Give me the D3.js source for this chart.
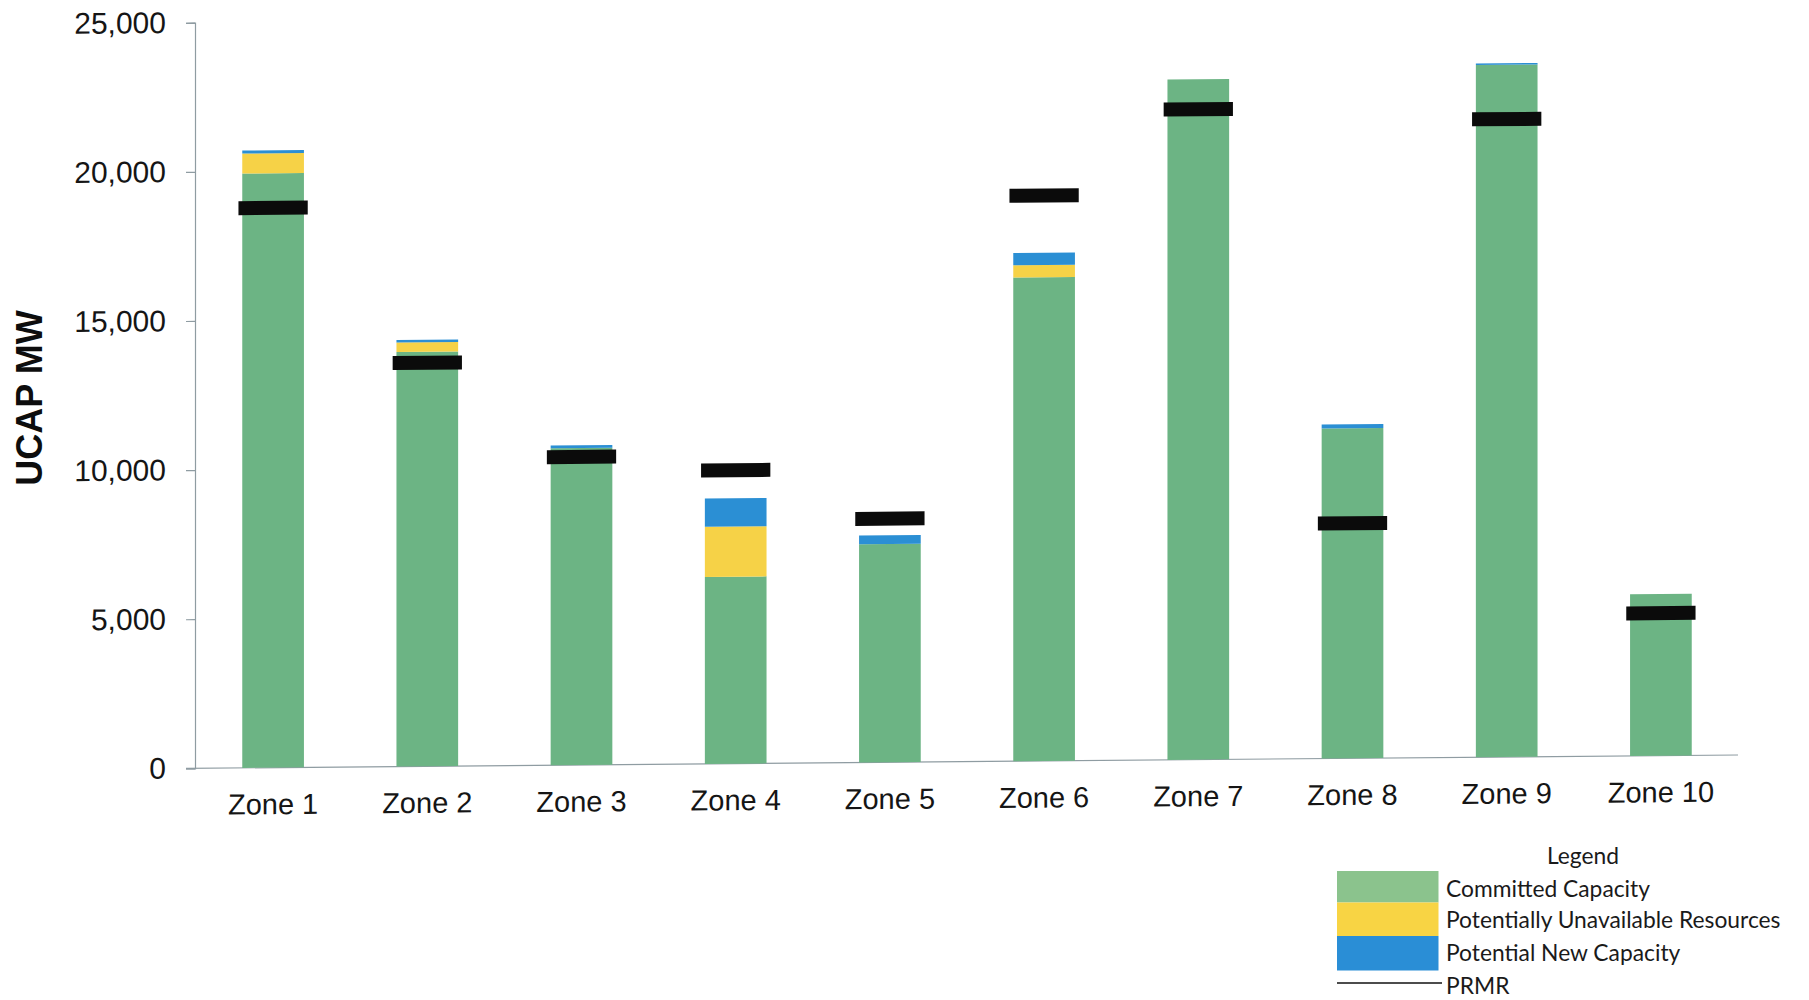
<!DOCTYPE html>
<html>
<head>
<meta charset="utf-8">
<script src="https://cdn.jsdelivr.net/npm/d3@7"></script>
<style>
  html, body { margin: 0; padding: 0; background: #ffffff; }
  svg { display: block; }
</style>
</head>
<body>
<svg id="chart" width="1809" height="1000"></svg>
<script>
// Zonal capacity (UCAP MW) by resource status, with the PRMR for each zone
const zones = ["Zone 1", "Zone 2", "Zone 3", "Zone 4", "Zone 5",
               "Zone 6", "Zone 7", "Zone 8", "Zone 9", "Zone 10"];
const committedCapacity   = [19930, 13900, 10630, 6270, 7320, 16220, 22810, 11070, 23210, 5420];
const potentiallyUnavail  = [670, 320, 0, 1680, 0, 410, 0, 0, 0, 0];
const potentialNewCap     = [100, 80, 90, 950, 290, 410, 0, 130, 50, 0];
const prmr                = [18770, 13530, 10330, 9840, 8170, 18960, 21810, 7880, 21390, 4780];
const yTicks              = [0, 5000, 10000, 15000, 20000, 25000];

const seriesKeys   = ["committed", "unavailable", "newcap"];
const seriesLabels = ["Committed Capacity", "Potentially Unavailable Resources", "Potential New Capacity"];
const seriesColors = { committed: "#6cb484", unavailable: "#f6d247", newcap: "#2b8fd4" };
const legendColors = { committed: "#8bc38d", unavailable: "#f8d444", newcap: "#2a8ed6" };

const rows = zones.map((z, i) => ({
  zone: z,
  committed: committedCapacity[i],
  unavailable: potentiallyUnavail[i],
  newcap: potentialNewCap[i],
  prmr: prmr[i]
}));

const svg = d3.select("#chart");

// Plot frame
const x0 = 196, x1 = 1738, yBottom = 768.3, yTop = 22.7;

const x = d3.scaleBand().domain(zones).range([x0, x1]).paddingInner(0.6).paddingOuter(0.3);
const y = d3.scaleLinear().domain([0, 25000]).range([yBottom, yTop]);

// The printed chart sits on a slightly sloping baseline
const plot = svg.append("g")
  .attr("transform", `translate(195,${yBottom}) skewY(-0.4945) translate(-195,${-yBottom})`);

// Y axis
const yAxis = d3.axisLeft(y).tickValues(yTicks).tickSize(9).tickPadding(20)
  .tickFormat(d3.format(","));
const yG = plot.append("g").attr("transform", "translate(195,0)").call(yAxis);
yG.select(".domain").attr("stroke", "#8f9ca2").attr("stroke-width", 1.2);
yG.selectAll(".tick line").attr("stroke", "#8f9ca2").attr("stroke-width", 1.2);
yG.selectAll(".tick text")
  .attr("font-family", "'Liberation Sans', Arial, sans-serif")
  .attr("font-size", 30).attr("fill", "#151515");

// Baseline (category axis)
const xAxis = d3.axisBottom(x).tickSize(0).tickPadding(26);
const xG = plot.append("g").attr("transform", `translate(0,${yBottom})`).call(xAxis);
xG.select(".domain").attr("d", `M186,0H${x1}`).attr("stroke", "#8f9ca2").attr("stroke-width", 1.2);
xG.selectAll(".tick text")
  .attr("font-family", "'Liberation Sans', Arial, sans-serif")
  .attr("font-size", 29).attr("fill", "#151515");

// Stacked bars
const stacked = d3.stack().keys(seriesKeys)(rows);
plot.append("g").selectAll("g")
  .data(stacked)
  .join("g")
    .attr("fill", d => seriesColors[d.key])
  .selectAll("rect")
  .data(d => d.filter(s => s[1] - s[0] > 0))
  .join("rect")
    .attr("x", d => x(d.data.zone))
    .attr("width", x.bandwidth())
    .attr("y", d => y(d[1]))
    .attr("height", d => y(d[0]) - y(d[1]));

// PRMR markers
const markerH = 14, markerExtra = 3.8;
plot.append("g").selectAll("rect")
  .data(rows)
  .join("rect")
    .attr("x", d => x(d.zone) - markerExtra)
    .attr("width", x.bandwidth() + markerExtra * 2)
    .attr("y", d => y(d.prmr) - markerH / 2)
    .attr("height", markerH)
    .attr("fill", "#0b0b0b");

// Y axis title
svg.append("text")
  .attr("transform", "translate(42,398) rotate(-90)")
  .attr("text-anchor", "middle")
  .attr("font-family", "'Liberation Sans', Arial, sans-serif")
  .attr("font-weight", "bold")
  .attr("font-size", 36)
  .attr("fill", "#0d0d0d")
  .text("UCAP MW");

// Legend
const legendFont = "Lato, 'Open Sans', sans-serif";
const legendSize = 22.8;
const lg = svg.append("g");
lg.append("text")
  .attr("x", 1583).attr("y", 856).attr("dy", "0.35em")
  .attr("text-anchor", "middle")
  .attr("font-family", legendFont).attr("font-size", legendSize).attr("fill", "#1a1a1a")
  .text("Legend");

const swTop = [871, 902.5, 936];
const swBottom = [902.5, 936, 970.5];
const rowY = [889, 920.5, 953.5];
seriesKeys.forEach((k, i) => {
  lg.append("rect")
    .attr("x", 1337).attr("y", swTop[i])
    .attr("width", 101.5).attr("height", swBottom[i] - swTop[i])
    .attr("fill", legendColors[k]);
  lg.append("text")
    .attr("x", 1446).attr("y", rowY[i]).attr("dy", "0.35em")
    .attr("font-family", legendFont).attr("font-size", legendSize).attr("fill", "#1a1a1a")
    .text(seriesLabels[i]);
});
lg.append("line")
  .attr("x1", 1337).attr("x2", 1442).attr("y1", 983).attr("y2", 983)
  .attr("stroke", "#111").attr("stroke-width", 1.6);
lg.append("text")
  .attr("x", 1446).attr("y", 986).attr("dy", "0.35em")
  .attr("font-family", legendFont).attr("font-size", legendSize).attr("fill", "#1a1a1a")
  .text("PRMR");
</script>
</body>
</html>
